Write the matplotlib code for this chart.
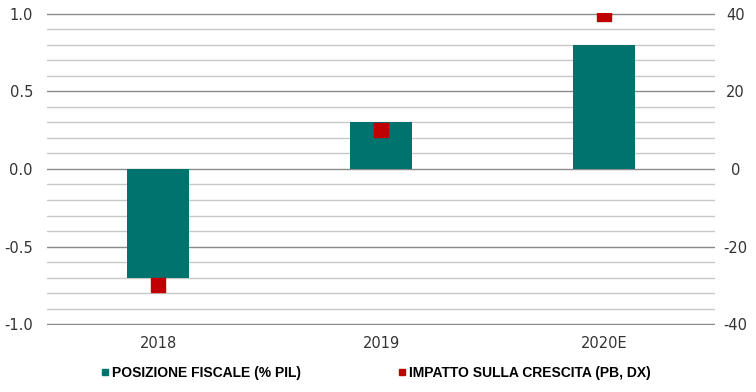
import numpy as np
import matplotlib.pyplot as plt
from matplotlib.lines import Line2D
from matplotlib.ticker import MultipleLocator

years = ["2018", "2019", "2020E"]
fiscal = [-0.7, 0.3, 0.8]          # % PIL, left axis
impact = [-30, 10, 40]             # pb, right axis

teal = "#00736F"
red = "#C00000"

fig = plt.figure(figsize=(7.56, 3.92), dpi=100)
ax = fig.add_axes([0.062, 0.171, 0.884, 0.796])
ax2 = ax.twinx()

x = np.arange(len(years))
ax.bar(x, fiscal, width=0.28, color=teal, zorder=3)
ax2.plot(x, impact, "s", color=red, ms=10, zorder=4)

ax.set_xlim(-0.5, 2.5)
ax.set_ylim(-1.004, 1.004)
ax2.set_ylim(-40.16, 40.16)
ax.yaxis.set_minor_locator(MultipleLocator(0.1))
ax.set_yticks([-1.0, -0.5, 0.0, 0.5, 1.0])
ax.set_yticklabels(["-1.0", "-0.5", "0.0", "0.5", "1.0"])
ax2.set_yticks([-40, -20, 0, 20, 40])
ax2.set_yticklabels(["-40", "-20", "0", "20", "40"])

ax.grid(axis="y", which="minor", color="#c8c8c8", lw=1.0, zorder=0)
ax.grid(axis="y", which="major", color="#8a8a8a", lw=1.0, zorder=0)
ax.set_xticks(x)
ax.set_xticklabels(years)

for a in (ax, ax2):
    for s in a.spines.values():
        s.set_visible(False)
    a.tick_params(length=0, labelsize=10.5, colors="#333333")
ax.tick_params(axis="y", which="both", length=0, pad=10)
ax.tick_params(axis="x", pad=8)
ax2.tick_params(axis="y", pad=14.5)
for t in ax2.get_yticklabels():
    t.set_horizontalalignment("center")

handles = [
    Line2D([], [], marker="s", ls="", color=teal, ms=5),
    Line2D([], [], marker="s", ls="", color=red, ms=5),
]
labels = ["POSIZIONE FISCALE (% PIL)", "IMPATTO SULLA CRESCITA (PB, DX)"]
fig.legend(handles, labels, loc="center left", bbox_to_anchor=(0.111, 0.048), ncol=2,
           frameon=False, handletextpad=-0.5, columnspacing=6.3, borderpad=0,
           prop={"family": ["Liberation Sans", "DejaVu Sans"],
                 "weight": "bold", "size": 10})

fig.savefig("out.png", dpi=100)
